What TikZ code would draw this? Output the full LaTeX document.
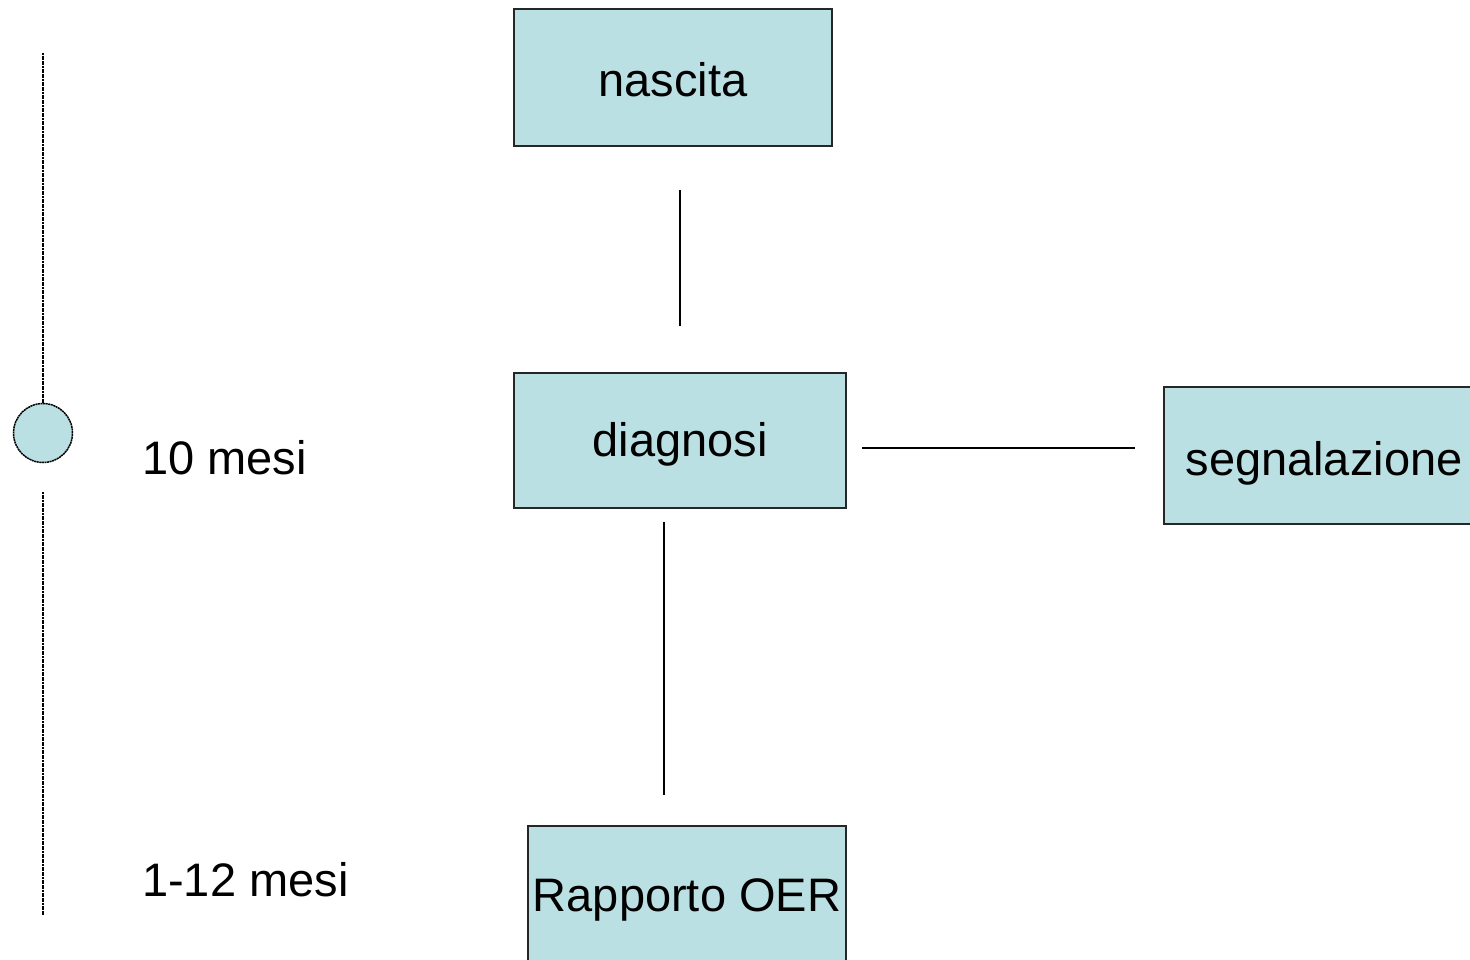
\documentclass[tikz,border=0pt]{standalone}
\usepackage{fontspec}
\setmainfont{Liberation Sans}
\definecolor{boxfill}{HTML}{BBE0E3}
\newcommand\lowertxt[2]{\raisebox{0pt}[\dimexpr\height+#1*2\relax][\depth]{#2}}
\begin{document}
\begin{tikzpicture}[x=1pt,y=-1pt,
  box/.style={draw=black!85,line width=1.3pt,fill=boxfill,rectangle,inner sep=0pt,
    font=\fontsize{47}{56}\selectfont},
  conn/.style={draw=black,line width=1.3pt},
  tline/.style={draw=black,line width=1.5pt,dash pattern=on 2pt off 0.6pt},
  lbl/.style={anchor=west,inner sep=0pt,font=\fontsize{47}{56}\selectfont}]
\useasboundingbox (0,0) rectangle (1470,960);
\clip (0,0) rectangle (1470,960);
\node[box,minimum width=318pt,minimum height=137pt] (nascita) at (673,77.5) {\lowertxt{2pt}{nascita}};
\node[box,minimum width=332pt,minimum height=135pt] (diagnosi) at (680,440.5) {\lowertxt{4pt}{diagnosi}};
\node[box,minimum width=320pt,minimum height=137pt] (segn) at (1324,455.5) {\lowertxt{8pt}{segnalazione}};
\node[box,minimum width=318pt,minimum height=137pt] (oer) at (687,894.5) {\lowertxt{5pt}{Rapporto OER}};
% connectors
\coordinate (c1a) at (680,190); \coordinate (c1b) at (680,326);
\draw[conn] (c1a) -- (c1b);
\coordinate (c2a) at (862,448); \coordinate (c2b) at (1135,448);
\draw[conn] (c2a) -- (c2b);
\coordinate (c3a) at (664,522); \coordinate (c3b) at (664,795);
\draw[conn] (c3a) -- (c3b);
% timeline
\node[draw=black,dash pattern=on 2pt off 0.6pt,line width=1.5pt,fill=boxfill,circle,minimum size=59pt,inner sep=0pt] (tl) at (43,433) {};
\coordinate (ttop) at (43,53);
\coordinate (tbot) at (43,915);
\draw[tline] (ttop) -- (tl.north);
\draw[tline,shorten <=29pt] (tl.south) -- (tbot);
\node[lbl] (m10) at (142,458) {10 mesi};
\node[lbl] (m12) at (142,880) {1-12 mesi};
\end{tikzpicture}
\end{document}
